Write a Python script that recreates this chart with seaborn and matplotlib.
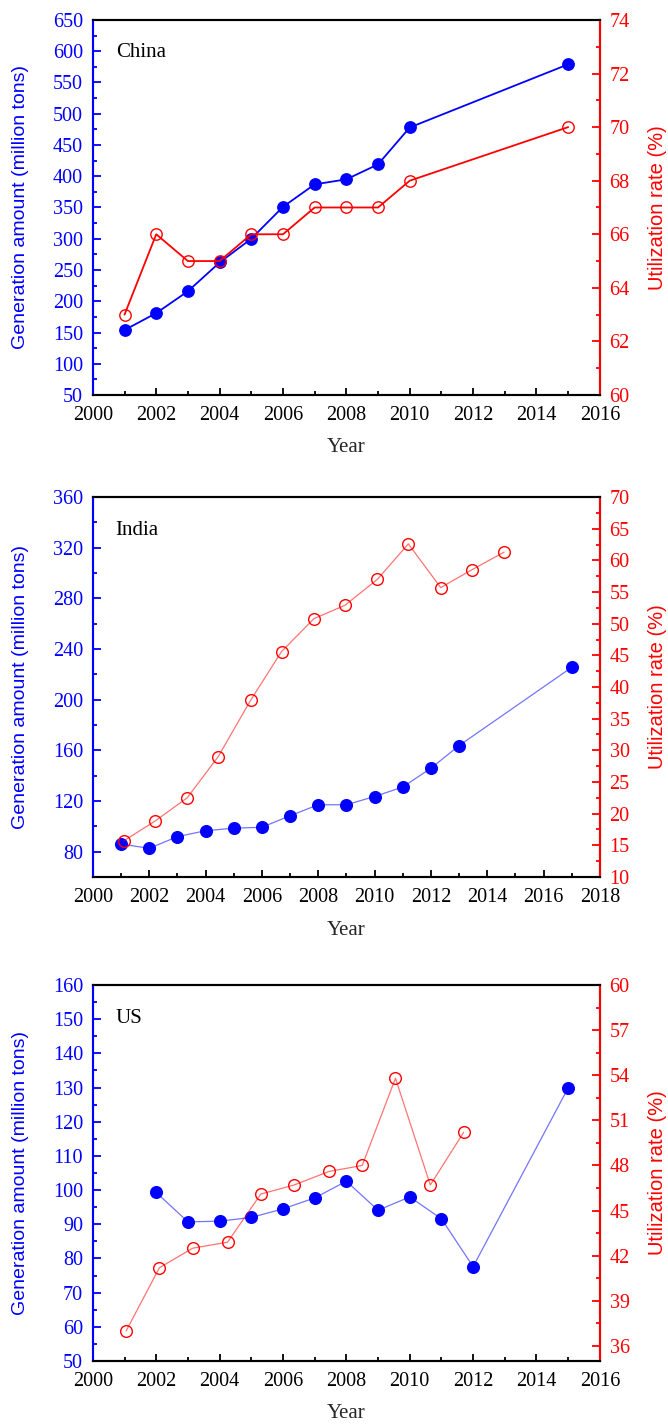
import numpy as np
import pandas as pd
import matplotlib
matplotlib.use("Agg")
import matplotlib.pyplot as plt
from matplotlib.ticker import MultipleLocator
import seaborn as sns

# ================================================
#  Datos
# ================================================

china_years = [2001, 2002, 2003, 2004, 2005, 2006, 2007, 2008, 2009, 2010, 2015]
china_gen = [154, 181, 216, 262, 300, 351, 387, 395, 419, 478, 579]
china_util = [63, 66, 65, 65, 66, 66, 67, 67, 67, 68, 70]

india_gen_years = [2001, 2002, 2003, 2004, 2005, 2006, 2007, 2008, 2009, 2010, 2011, 2012, 2013, 2017]
india_gen = [86, 82.6, 91.8, 96.5, 98.5, 99.2, 108.3, 117, 117, 123.5, 131, 145.8, 163.7, 225.5]
india_util_x = [2001.1, 2002.2, 2003.35, 2004.45, 2005.6, 2006.7, 2007.85, 2008.95, 2010.1,
                2011.2, 2012.35, 2013.45, 2014.6]
india_util = [15.7, 18.8, 22.5, 29.0, 37.9, 45.6, 50.8, 52.9, 57.0, 62.6, 55.7, 58.5, 61.3]

us_gen_years = [2002, 2003, 2004, 2005, 2006, 2007, 2008, 2009, 2010, 2011, 2012, 2015]
us_gen = [99.3, 90.7, 90.9, 92.0, 94.5, 97.7, 102.6, 94.1, 98.0, 91.6, 77.6, 129.9]
us_util_x = [2001.05, 2002.1, 2003.15, 2004.25, 2005.3, 2006.35, 2007.45, 2008.5, 2009.55,
             2010.65, 2011.7]
us_util = [37.0, 41.2, 42.5, 42.9, 46.1, 46.7, 47.6, 48.0, 53.8, 46.7, 50.2]

# ================================================
#  Estilo
# ================================================

sns.set_theme(style="ticks")
plt.rcParams['font.family'] = ['Liberation Serif', 'DejaVu Serif']

AZUL = '#0000FF'
ROJO = '#FF0000'
SANS = ['Liberation Sans', 'DejaVu Sans']

fig = plt.figure(figsize=(6.68, 14.25), dpi=100)


def panel(pos, nombre, x_gen, y_gen, x_util, y_util, xlim, xstep,
          yticks, ylim, yminor, rlim, rticks, rminor, suave):
    ax = fig.add_axes(pos)
    ax2 = ax.twinx()

    if suave:
        lw, alpha, ms = 1.3, 1.0, 8.2
    else:
        lw, alpha, ms = 0.9, 0.55, 8.4

    gen = pd.DataFrame({'x': x_gen, 'y': y_gen})
    util = pd.DataFrame({'x': x_util, 'y': y_util})

    # Generacion (eje izquierdo)
    sns.lineplot(data=gen, x='x', y='y', ax=ax, color=AZUL, lw=lw, alpha=alpha)
    ax.plot(gen['x'], gen['y'], ls='none', marker='o', ms=ms, color=AZUL,
            markeredgecolor=AZUL, zorder=3)

    # Utilizacion (eje derecho)
    sns.lineplot(data=util, x='x', y='y', ax=ax2, color=ROJO, lw=lw, alpha=alpha)
    ax2.plot(util['x'], util['y'], ls='none', marker='o', ms=ms,
             markerfacecolor='none', markeredgecolor=ROJO, mew=1.0, zorder=3)

    ax.set_xlim(*xlim)
    ax.set_ylim(*ylim)
    ax2.set_ylim(*rlim)

    ax.xaxis.set_major_locator(MultipleLocator(xstep))
    ax.xaxis.set_minor_locator(MultipleLocator(1))
    ax.set_yticks(yticks)
    ax.yaxis.set_minor_locator(MultipleLocator(yminor))
    ax2.set_yticks(rticks)
    ax2.yaxis.set_minor_locator(MultipleLocator(rminor))

    ax.tick_params(axis='y', which='both', direction='in', colors=AZUL,
                   labelsize=14.5, pad=7, width=1.3)
    ax.tick_params(axis='y', which='major', length=5.5)
    ax.tick_params(axis='y', which='minor', length=3)
    ax.tick_params(axis='x', which='both', direction='in', colors='black',
                   labelsize=14.5, pad=8, width=1.3)
    ax.tick_params(axis='x', which='major', length=5)
    ax.tick_params(axis='x', which='minor', length=3)
    ax2.tick_params(axis='y', which='both', direction='in', colors=ROJO,
                    labelsize=14.5, pad=7, width=1.3)
    ax2.tick_params(axis='y', which='major', length=5.5)
    ax2.tick_params(axis='y', which='minor', length=3)

    for a in (ax, ax2):
        for s in a.spines.values():
            s.set_linewidth(1.5)
            s.set_color('black')
    ax.spines['left'].set_color(AZUL)
    ax2.spines['left'].set_color(AZUL)
    ax2.spines['right'].set_color(ROJO)

    ax.set_xlabel('Year', fontsize=15)
    ax.xaxis.set_label_coords(0.5, -0.115)
    ax.set_ylabel('Generation amount (million tons)', fontsize=14,
                  color=AZUL, family=SANS)
    ax.yaxis.set_label_coords(-0.125, 0.5)
    ax2.set_ylabel('Utilization rate (%)', fontsize=14.5, color=ROJO, family=SANS)
    ax2.yaxis.set_label_coords(1.095, 0.5)

    ax.text(0.045, 0.9, nombre, transform=ax.transAxes, fontsize=15,
            color='black', va='baseline', ha='left')
    return ax


panel([0.139, 0.7228, 0.759, 0.2632], 'China', china_years, china_gen,
      china_years, china_util, (2000, 2016), 2, np.arange(50, 651, 50),
      (50, 650), 25, (60, 74), np.arange(60, 75, 2), 1, True)

panel([0.139, 0.3846, 0.759, 0.2666], 'India', india_gen_years, india_gen,
      india_util_x, india_util, (2000, 2018), 2, np.arange(80, 361, 40),
      (60, 360), 20, (10, 70), np.arange(10, 71, 5), 2.5, False)

panel([0.139, 0.0449, 0.759, 0.2639], 'US', us_gen_years, us_gen,
      us_util_x, us_util, (2000, 2016), 2, np.arange(50, 161, 10),
      (50, 160), 5, (35, 60), np.arange(36, 61, 3), 1.5, False)

fig.savefig('out.png', dpi=100)
